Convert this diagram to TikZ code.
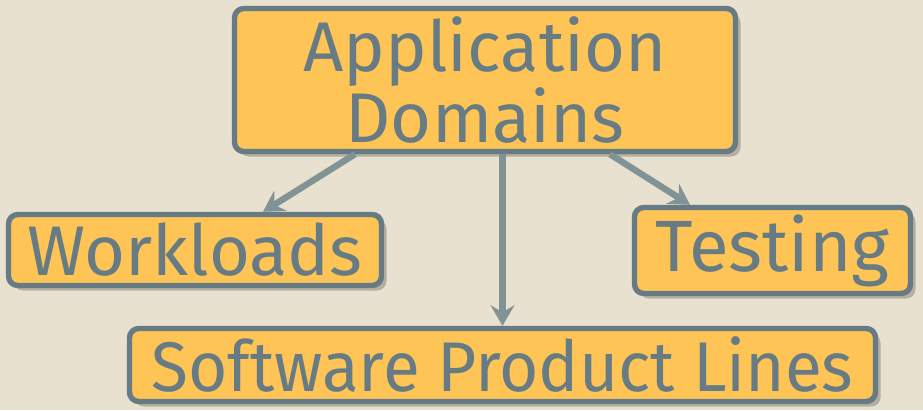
\documentclass[tikz,border=0pt]{standalone}
\usepackage{fontspec}
\setmainfont{Fira Sans}
\usepackage{tikz}
\usetikzlibrary{
  arrows.meta,
  positioning,
  shadows
}

\definecolor{bgbeige}{HTML}{E9E1CF}
\definecolor{boxfill}{HTML}{FFC456}
\definecolor{boxline}{HTML}{677B84}
\definecolor{arrowgray}{HTML}{829396}
\definecolor{shadowgray}{HTML}{B5AFA2}

\begin{document}
\begin{tikzpicture}[
    x=0.03cm, y=0.03cm,
    font=\fontsize{60}{60}\selectfont,
    topic/.style={draw=boxline, line width=4.6pt, fill=boxfill,
                  text=boxline, rounded corners=8pt, inner sep=0pt,
                  align=center,
                  drop shadow={shadow xshift=0.15cm, shadow yshift=-0.15cm,
                               fill=shadowgray, opacity=1}},
    link/.style={-{Stealth[length=0.62cm, width=0.72cm, inset=0.22cm]},
                 draw=arrowgray, line width=5.5pt},
  ]

  % Background
  \fill[bgbeige] (0,0) rectangle (923,410);
  \useasboundingbox (0,0) rectangle (923,410);

  % Boxes
  \node[topic, minimum width=15.03cm, minimum height=4.29cm] (domains)
    at (485,330) {Application\\Domains};
  \node[topic, minimum width=11.19cm, minimum height=2.13cm] (workloads)
    at (195,160) {Workloads};
  \node[topic, minimum width=8.28cm, minimum height=2.58cm] (testing)
    at (772.5,159.5) {\fontsize{62}{60}\selectfont Testing};
  \node[topic, minimum width=22.38cm, minimum height=2.19cm] (spl)
    at (502.5,45) {\scalebox{0.96}[1]{Software Product Lines}};

  % Arrows
  \draw[link] ([xshift=-3.9cm]domains.south) -- ([xshift=2.04cm]workloads.north);
  \draw[link] (domains.south -| spl.north) -- (spl.north);
  \draw[link] ([xshift=3.75cm]domains.south) -- ([xshift=-2.475cm]testing.north);

\end{tikzpicture}
\end{document}
